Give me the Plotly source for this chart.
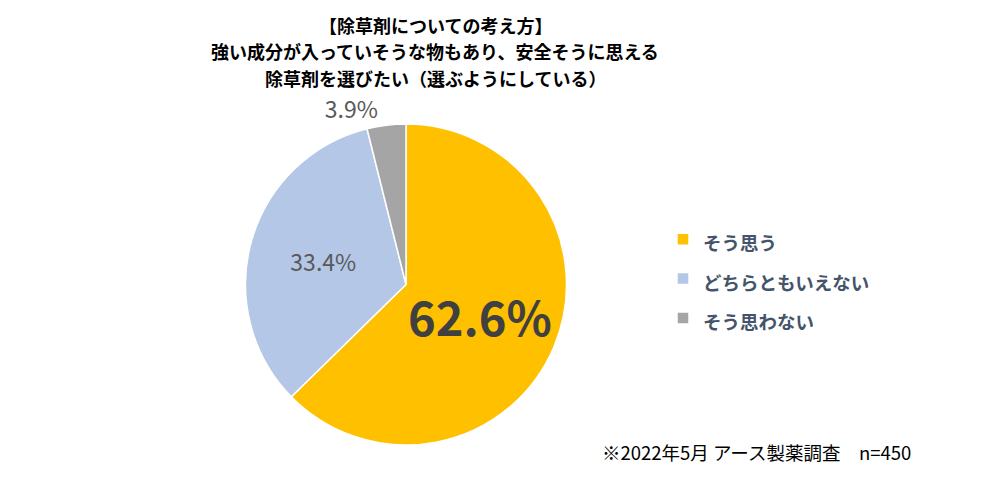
import plotly.graph_objects as go

# Survey answers (2022/5, n=450)
categories = ['そう思う', 'どちらともいえない', 'そう思わない']
shares = [62.6, 33.4, 3.9]
colors = ['#FFC000', '#B4C7E7', '#A5A5A5']

title_lines = [
    '【除草剤についての考え方】',
    '強い成分が入っていそうな物もあり、安全そうに思える',
    '除草剤を選びたい（選ぶようにしている）',
]
footnote = '※2022年5月 アース製薬調査　n=450'

FONT = 'Noto Sans CJK JP'
W, H = 1000, 486
# the page body adds an 8px margin, so positions are measured from there
PAGE_PAD = 8


def px(x):
    return (x - PAGE_PAD) / W


def py(y):
    return 1 - (y - PAGE_PAD) / H


# Legend font is larger than the visible text so items get Excel-like spacing
legend_labels = [
    f'<span style="font-size:18.5px"><b>{c}</b></span>' for c in categories
]

pie = go.Pie(
    labels=legend_labels,
    values=shares,
    sort=False,
    direction='clockwise',
    rotation=0,
    marker=dict(colors=colors, line=dict(color='white', width=1.5)),
    texttemplate=[
        '<b>%{value:.1f}%</b>',
        '%{value:.1f}%',
        '%{value:.1f}%',
    ],
    textposition=['inside', 'inside', 'outside'],
    insidetextorientation='horizontal',
    textfont=dict(
        family=FONT,
        size=[47, 23, 23],
        color=['#404040', '#595959', '#595959'],
    ),
    domain=dict(x=[px(245), px(567)], y=[py(445), py(124)]),
    hoverinfo='skip',
)

fig = go.Figure(data=[pie])

# Title, one annotation per line (Excel line spacing is wider than Plotly's)
annotations = []
for i, line in enumerate(title_lines):
    annotations.append(
        dict(
            text=f'<b>{line}</b>',
            x=px(435),
            y=py(25 + 26.5 * i),
            xref='paper',
            yref='paper',
            xanchor='center',
            yanchor='middle',
            showarrow=False,
            font=dict(family=FONT, size=18, color='#000000'),
        )
    )

annotations.append(
    dict(
        text=footnote,
        x=px(600),
        y=py(452),
        xref='paper',
        yref='paper',
        xanchor='left',
        yanchor='middle',
        showarrow=False,
        font=dict(family=FONT, size=18.5, color='#000000'),
    )
)

fig.update_layout(
    width=W,
    height=H,
    margin=dict(l=0, r=0, t=0, b=0),
    paper_bgcolor='white',
    plot_bgcolor='white',
    showlegend=True,
    legend=dict(
        x=px(663),
        xanchor='left',
        y=py(279),
        yanchor='middle',
        font=dict(family=FONT, size=28, color='#44546A'),
        bgcolor='rgba(0,0,0,0)',
    ),
    annotations=annotations,
)

fig.write_html('out.html')
